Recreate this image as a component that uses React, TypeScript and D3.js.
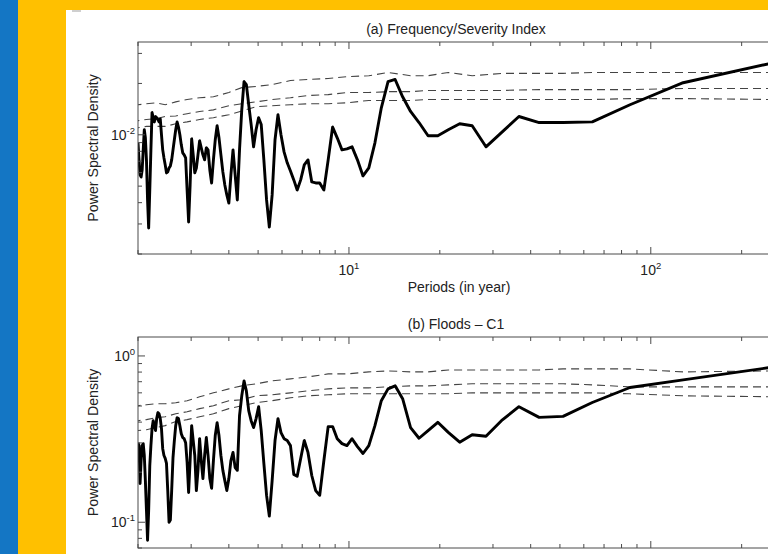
import React from 'react';
import * as d3 from 'd3';

// Record length (years) -> periods N/k
const N = 256;
const harmonics = d3.range(1, 129);
const periods = harmonics.map((k) => N / k);

// (a) Frequency/Severity Index – PSD per harmonic k = 1..128
const fsiPSD = [
  0.0265, 0.0202, 0.0150, 0.0119, 0.0118, 0.0118, 0.0128, 0.0103, 0.0085, 0.0113,
  0.0116, 0.0107, 0.00987, 0.00987, 0.0118, 0.0137, 0.0167, 0.0211, 0.0205, 0.0144,
  0.00897, 0.00639, 0.00574, 0.00713, 0.0085, 0.00827, 0.00816, 0.0096, 0.0111, 0.00713,
  0.00475, 0.00522, 0.00522, 0.00529, 0.00713, 0.00666, 0.00544, 0.00475, 0.00544, 0.00614,
  0.00685, 0.00794, 0.0100, 0.0131, 0.00935, 0.00444, 0.00288, 0.00415, 0.00713, 0.0115,
  0.0126, 0.0107, 0.0085, 0.0115, 0.0150, 0.0197, 0.0205, 0.0140, 0.00816, 0.00415,
  0.00582, 0.00816, 0.00582, 0.00398, 0.00444, 0.00508, 0.00606, 0.00763, 0.0096, 0.0113,
  0.00935, 0.00713, 0.00522, 0.00622, 0.00816, 0.00839, 0.00713, 0.00763, 0.00839, 0.00922,
  0.00763, 0.00639, 0.00598, 0.00763, 0.00947, 0.00508, 0.00308, 0.00475, 0.00732, 0.00763,
  0.00784, 0.00873, 0.0100, 0.0111, 0.0119, 0.0107, 0.00935, 0.00816, 0.00713, 0.00657,
  0.00639, 0.00606, 0.00598, 0.00666, 0.00732, 0.00816, 0.0100, 0.0124, 0.0119, 0.0123,
  0.0126, 0.0128, 0.0119, 0.0126, 0.0135, 0.00816, 0.00475, 0.00284, 0.00415, 0.00713,
  0.0096, 0.0107, 0.00816, 0.00622, 0.00566, 0.00582, 0.00713, 0.00897,
];

// (b) Floods - C1 – PSD per harmonic k = 1..128
const floodsPSD = [
  0.859, 0.718, 0.646, 0.525, 0.433, 0.427, 0.495, 0.408, 0.329, 0.336,
  0.303, 0.347, 0.399, 0.356, 0.320, 0.371, 0.553, 0.661, 0.634, 0.538,
  0.381, 0.289, 0.259, 0.285, 0.318, 0.289, 0.297, 0.318, 0.376, 0.376,
  0.235, 0.145, 0.155, 0.191, 0.263, 0.310, 0.242, 0.189, 0.194, 0.289,
  0.310, 0.318, 0.346, 0.420, 0.310, 0.178, 0.109, 0.145, 0.226, 0.356,
  0.495, 0.420, 0.371, 0.408, 0.469, 0.617, 0.708, 0.576, 0.437, 0.205,
  0.213, 0.263, 0.235, 0.183, 0.155, 0.178, 0.205, 0.252, 0.332, 0.397,
  0.332, 0.235, 0.160, 0.183, 0.252, 0.323, 0.252, 0.183, 0.235, 0.318,
  0.205, 0.155, 0.252, 0.310, 0.381, 0.235, 0.151, 0.229, 0.301, 0.318,
  0.323, 0.341, 0.381, 0.420, 0.425, 0.381, 0.310, 0.245, 0.155, 0.103,
  0.100, 0.155, 0.226, 0.242, 0.252, 0.277, 0.365, 0.420, 0.449, 0.456,
  0.420, 0.356, 0.381, 0.408, 0.365, 0.289, 0.219, 0.118, 0.078, 0.118,
  0.178, 0.252, 0.297, 0.289, 0.235, 0.171, 0.289, 0.301,
];

// Confidence-level curves (dashed), sampled at these harmonics
const confHarmonics = [1, 2, 3, 4, 5, 6, 8, 10, 12, 14, 16, 19, 22, 26, 30, 35, 40, 46, 52, 58, 64, 72, 80, 88, 96, 104, 112, 120, 128];
const fsiConfHigh = [0.0232, 0.0232, 0.0232, 0.0232, 0.0229, 0.0229, 0.0229, 0.0222, 0.0232, 0.0222, 0.0222, 0.0232, 0.0222, 0.0219, 0.0214, 0.0211, 0.0208, 0.0197, 0.0192, 0.0189, 0.0177, 0.0167, 0.0165, 0.0161, 0.0156, 0.0150, 0.0154, 0.0152, 0.0150];
const fsiConfMid = [0.0187, 0.0187, 0.0184, 0.0184, 0.0184, 0.0184, 0.0182, 0.0182, 0.0182, 0.0182, 0.0179, 0.0179, 0.0177, 0.0177, 0.0172, 0.0170, 0.0165, 0.0161, 0.0156, 0.0152, 0.0148, 0.0140, 0.0137, 0.0133, 0.0129, 0.0128, 0.0124, 0.0123, 0.0121];
const fsiConfLow = [0.0161, 0.0163, 0.0163, 0.0161, 0.0161, 0.0161, 0.0161, 0.0161, 0.0161, 0.0161, 0.0159, 0.0159, 0.0159, 0.0154, 0.0152, 0.0152, 0.0150, 0.0148, 0.0146, 0.0138, 0.0131, 0.0126, 0.0123, 0.0119, 0.0116, 0.0112, 0.0112, 0.0112, 0.0110];
const floodsConfHigh = [0.813, 0.802, 0.836, 0.836, 0.836, 0.824, 0.824, 0.824, 0.824, 0.802, 0.802, 0.813, 0.802, 0.780, 0.780, 0.748, 0.728, 0.708, 0.680, 0.661, 0.634, 0.600, 0.568, 0.538, 0.523, 0.516, 0.516, 0.509, 0.502];
const floodsConfMid = [0.652, 0.652, 0.652, 0.670, 0.680, 0.680, 0.680, 0.680, 0.670, 0.661, 0.661, 0.652, 0.643, 0.643, 0.634, 0.617, 0.600, 0.584, 0.576, 0.545, 0.538, 0.502, 0.482, 0.462, 0.449, 0.431, 0.425, 0.414, 0.408];
const floodsConfLow = [0.568, 0.576, 0.592, 0.600, 0.600, 0.600, 0.600, 0.600, 0.592, 0.592, 0.592, 0.592, 0.592, 0.592, 0.584, 0.576, 0.560, 0.538, 0.523, 0.502, 0.482, 0.449, 0.431, 0.414, 0.403, 0.381, 0.371, 0.360, 0.356];

const xDomain = [2, 256];
const xMajorTicks = [10, 100];
const xMinorTicks = [2, 3, 4, 5, 6, 7, 8, 9, 20, 30, 40, 50, 60, 70, 80, 90, 200];
const fsiYDomain = [0.002, 0.035];
const fsiYMajor = [0.01];
const fsiYMinor = [0.002, 0.003, 0.004, 0.005, 0.006, 0.007, 0.008, 0.009, 0.02, 0.03];
const floodsYDomain = [0.07, 1.3];
const floodsYMajor = [0.1, 1];
const floodsYMinor = [0.07, 0.08, 0.09, 0.2, 0.3, 0.4, 0.5, 0.6, 0.7, 0.8, 0.9];

const FONT = "'Liberation Sans', Arial, Helvetica, sans-serif";
const AXIS = '#4a4a4a';

function expLabel(v: number) {
  return String(Math.round(Math.log10(v)));
}

type PanelProps = {
  id: string;
  top: number;
  bottom: number;
  title: string;
  psd: number[];
  conf: number[][];
  yDomain: number[];
  yMajor: number[];
  yMinor: number[];
  showXLabel: boolean;
};

const LEFT = 138;
const RIGHT = 774;

function Panel({ id, top, bottom, title, psd, conf, yDomain, yMajor, yMinor, showXLabel }: PanelProps) {
  const x = d3.scaleLog().domain(xDomain).range([LEFT, RIGHT]);
  const y = d3.scaleLog().domain(yDomain).range([bottom, top]);
  const line = d3
    .line<[number, number]>()
    .x((d) => x(d[0]))
    .y((d) => y(d[1]));
  const mainPts: [number, number][] = periods.map((p, i) => [p, psd[i]]);
  const confPeriods = confHarmonics.map((k) => N / k);
  const majorLen = 7;
  const minorLen = 4;
  const mid = (LEFT + RIGHT) / 2;
  return (
    <g>
      <defs>
        <clipPath id={id}>
          <rect x={LEFT} y={top} width={RIGHT - LEFT} height={bottom - top} />
        </clipPath>
      </defs>
      <g clipPath={`url(#${id})`}>
        {conf.map((c, j) => (
          <path
            key={j}
            d={line(confPeriods.map((p, i) => [p, c[i]] as [number, number])) || ''}
            fill="none"
            stroke="#444"
            strokeWidth={1.1}
            strokeDasharray="8,5"
          />
        ))}
        <path d={line(mainPts) || ''} fill="none" stroke="#000" strokeWidth={2.9} strokeLinejoin="round" />
      </g>
      <rect x={LEFT} y={top} width={RIGHT - LEFT} height={bottom - top} fill="none" stroke={AXIS} strokeWidth={1} />
      {xMajorTicks.map((t) => (
        <g key={'xm' + t}>
          <line x1={x(t)} x2={x(t)} y1={bottom} y2={bottom - majorLen} stroke={AXIS} />
          <line x1={x(t)} x2={x(t)} y1={top} y2={top + majorLen} stroke={AXIS} />
          <text x={x(t)} y={bottom + 21} fontSize={14} fontFamily={FONT} fill="#222" textAnchor="middle">
            10
            <tspan dy={-6} fontSize={9.5}>{expLabel(t)}</tspan>
          </text>
        </g>
      ))}
      {xMinorTicks.map((t) => (
        <g key={'xn' + t}>
          <line x1={x(t)} x2={x(t)} y1={bottom} y2={bottom - minorLen} stroke={AXIS} />
          <line x1={x(t)} x2={x(t)} y1={top} y2={top + minorLen} stroke={AXIS} />
        </g>
      ))}
      {yMajor.map((t) => (
        <g key={'ym' + t}>
          <line x1={LEFT} x2={LEFT + majorLen} y1={y(t)} y2={y(t)} stroke={AXIS} />
          <text x={LEFT - 3} y={y(t) + 5} fontSize={14} fontFamily={FONT} fill="#222" textAnchor="end">
            10
            <tspan dy={-6} fontSize={9.5}>{expLabel(t)}</tspan>
          </text>
        </g>
      ))}
      {yMinor.map((t) => (
        <line key={'yn' + t} x1={LEFT} x2={LEFT + minorLen} y1={y(t)} y2={y(t)} stroke={AXIS} />
      ))}
      <text x={mid} y={top - 8} fontSize={14} fontFamily={FONT} fill="#222" textAnchor="middle">
        {title}
      </text>
      <text
        transform={`translate(98, ${(top + bottom) / 2}) rotate(-90)`}
        fontSize={14.2}
        fontFamily={FONT}
        fill="#222"
        textAnchor="middle"
      >
        Power Spectral Density
      </text>
      {showXLabel && (
        <text x={mid + 3} y={bottom + 38} fontSize={14} fontFamily={FONT} fill="#222" textAnchor="middle">
          Periods (in year)
        </text>
      )}
    </g>
  );
}

export default function App() {
  return (
    <svg width={768} height={554} style={{ position: 'absolute', left: 0, top: 0 }}>
      <rect x={0} y={0} width={768} height={554} fill="#FFC000" />
      <rect x={0} y={0} width={18} height={554} fill="#1476C4" />
      <rect x={66} y={10} width={702} height={544} fill="#FFFFFF" />
      <rect x={72} y={10} width={9} height={2} fill="#cfcfcf" />
      <Panel
        id="clipA"
        top={42}
        bottom={254}
        title="(a) Frequency/Severity Index"
        psd={fsiPSD}
        conf={[fsiConfHigh, fsiConfMid, fsiConfLow]}
        yDomain={fsiYDomain}
        yMajor={fsiYMajor}
        yMinor={fsiYMinor}
        showXLabel={true}
      />
      <Panel
        id="clipB"
        top={337}
        bottom={548}
        title="(b) Floods – C1"
        psd={floodsPSD}
        conf={[floodsConfHigh, floodsConfMid, floodsConfLow]}
        yDomain={floodsYDomain}
        yMajor={floodsYMajor}
        yMinor={floodsYMinor}
        showXLabel={true}
      />
    </svg>
  );
}
